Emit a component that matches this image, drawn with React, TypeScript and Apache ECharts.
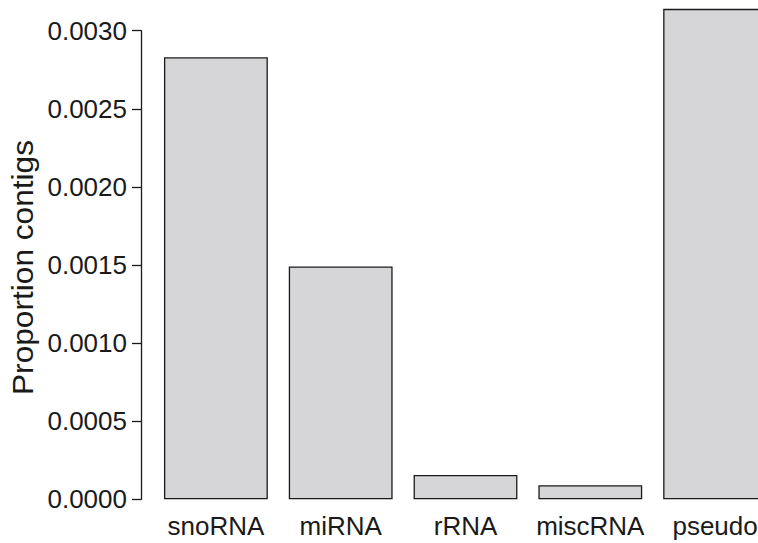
import React, { useEffect, useRef } from "react";
import * as echarts from "echarts";

const categories = ["snoRNA", "miRNA", "rRNA", "miscRNA", "pseudo"];
const proportions = [0.00283, 0.00149, 0.000156, 0.00009, 0.00314];
const yTitle = "Proportion contigs";

export default function App() {
  const ref = useRef<HTMLDivElement>(null);
  useEffect(() => {
    const chart = echarts.init(ref.current!, null, { renderer: "svg" });
    const font = "'Liberation Sans', Arial, Helvetica, sans-serif";
    chart.setOption({
      animation: false,
      backgroundColor: "#ffffff",
      grid: {
        left: 153.5,
        top: 30.7,
        width: 624,
        bottom: 43.7,
        containLabel: false,
        outerBoundsMode: "none",
      },
      xAxis: {
        type: "category",
        data: categories,
        axisLine: { show: false },
        axisTick: { show: false },
        axisLabel: { color: "#1a1a1a", fontSize: 26, fontFamily: font, margin: 14, interval: 0 },
      },
      yAxis: {
        type: "value",
        min: 0,
        max: 0.003,
        interval: 0.0005,
        offset: 12.5,
        splitLine: { show: false },
        axisLine: { show: true, lineStyle: { color: "#1a1a1a", width: 1.3 } },
        axisTick: { show: true, length: 9, lineStyle: { color: "#1a1a1a", width: 1.3 } },
        axisLabel: {
          color: "#1a1a1a",
          fontSize: 26,
          fontFamily: font,
          margin: 14,
          formatter: (v: number) => v.toFixed(4),
        },
      },
      graphic: [
        {
          type: "text",
          x: 23,
          y: 267.5,
          rotation: Math.PI / 2,
          scaleX: 1.055,
          style: {
            text: yTitle,
            font: `30px ${font}`,
            fill: "#1a1a1a",
            textAlign: "center",
            textVerticalAlign: "middle",
          },
        },
      ],
      series: [
        {
          type: "bar",
          data: proportions,
          clip: false,
          barCategoryGap: "16.8%",
          itemStyle: { color: "#d6d6d8", borderColor: "#1a1a1a", borderWidth: 1.3 },
        },
      ],
    });
    return () => chart.dispose();
  }, []);
  return (
    <div
      ref={ref}
      style={{ position: "absolute", left: 0, top: 0, width: 758, height: 543, overflow: "hidden" }}
    />
  );
}
